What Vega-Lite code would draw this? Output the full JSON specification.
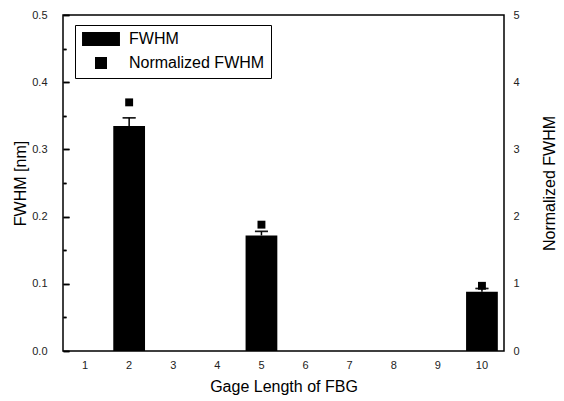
{
  "$schema": "https://vega.github.io/schema/vega-lite/v6.json",
  "width": 441,
  "height": 336,
  "autosize": {"type": "none"},
  "padding": {"left": 63, "top": 15, "right": 60, "bottom": 50},
  "background": "white",
  "config": {
    "view": {"stroke": "black", "strokeWidth": 1.5},
    "font": "Liberation Sans",
    "axis": {
      "domain": false, "grid": false, "ticks": false,
      "labelFont": "Liberation Sans", "titleFont": "Liberation Sans",
      "labelFontSize": 11, "titleFontSize": 16, "titleFontWeight": "normal",
      "labelColor": "#222", "titleColor": "black", "gridColor": "black", "gridWidth": 1.5, "gridOpacity": 1
    }
  },
  "data": {
    "values": [
      {"gage": 2, "fwhm": 0.335, "err": 0.347, "norm": 3.70},
      {"gage": 5, "fwhm": 0.172, "err": 0.178, "norm": 1.88},
      {"gage": 10, "fwhm": 0.088, "err": 0.093, "norm": 0.97}
    ]
  },
  "encoding": {
    "x": {
      "field": "gage", "type": "ordinal",
      "scale": {"domain": [1, 2, 3, 4, 5, 6, 7, 8, 9, 10], "paddingInner": 0.28, "paddingOuter": 0.14},
      "axis": {"title": "Gage Length of FBG", "labelAngle": 0, "ticks": false, "grid": false, "labelPadding": 8, "titlePadding": 8}
    }
  },
  "layer": [
    {
      "mark": {"type": "bar", "color": "black"},
      "encoding": {
        "y": {
          "field": "fwhm", "type": "quantitative",
          "scale": {"domain": [0, 0.5]},
          "axis": {
            "title": "FWHM [nm]",
            "values": [0, 0.05, 0.1, 0.15, 0.2, 0.25, 0.3, 0.35, 0.4, 0.45, 0.5],
            "labelExpr": "abs(datum.value*10-round(datum.value*10))<0.001 ? format(datum.value,'.1f') : ''",
            "grid": true,
            "gridDash": {"condition": {"test": "abs(datum.value*10-round(datum.value*10))<0.001", "value": [6, 2000]}, "value": [3, 2000]},
            "labelPadding": 16,
            "titlePadding": 3
          }
        }
      }
    },
    {
      "mark": {"type": "errorbar", "color": "black", "ticks": {"color": "black", "size": 13, "thickness": 1.5}, "rule": {"strokeWidth": 1.5}},
      "encoding": {
        "y": {"field": "err", "type": "quantitative", "scale": {"domain": [0, 0.5]}, "axis": null},
        "y2": {"field": "err"}
      }
    },
    {
      "mark": {"type": "rule", "color": "black", "strokeWidth": 1.5},
      "encoding": {
        "y": {"field": "fwhm", "type": "quantitative", "scale": {"domain": [0, 0.5]}, "axis": null},
        "y2": {"field": "err"}
      }
    },
    {
      "mark": {"type": "point", "filled": true, "color": "black", "opacity": 1, "size": 85},
      "encoding": {
        "y": {
          "field": "norm", "type": "quantitative",
          "scale": {"domain": [0, 5]},
          "axis": {
            "orient": "right",
            "title": "Normalized FWHM",
            "titleAngle": -90,
            "values": [0, 0.5, 1, 1.5, 2, 2.5, 3, 3.5, 4, 4.5, 5],
            "labelExpr": "datum.value % 1 == 0 ? format(datum.value,'d') : ''",
            "grid": true,
            "gridDash": {"condition": {"test": "datum.value % 1 == 0", "value": [0, 435, 6, 2000]}, "value": [0, 438, 3, 2000]},
            "labelPadding": 9,
            "titlePadding": 38
          }
        },
        "shape": {
          "datum": "Normalized FWHM",
          "scale": {"domain": ["FWHM", "Normalized FWHM"], "range": ["M-2.71,-1H2.71V1H-2.71Z", "M-0.857,-0.857H0.857V0.857H-0.857Z"]},
          "legend": {
            "title": null, "orient": "none", "legendX": 12, "legendY": 10,
            "strokeColor": "black", "padding": 6, "symbolSize": 196,
            "symbolFillColor": "black", "symbolStrokeColor": "black",
            "symbolOffset": 12, "labelOffset": 20,
            "labelFont": "Liberation Sans", "labelFontSize": 16, "labelColor": "black",
            "rowPadding": 5
          }
        }
      }
    }
  ],
  "resolve": {"scale": {"y": "independent"}}
}
